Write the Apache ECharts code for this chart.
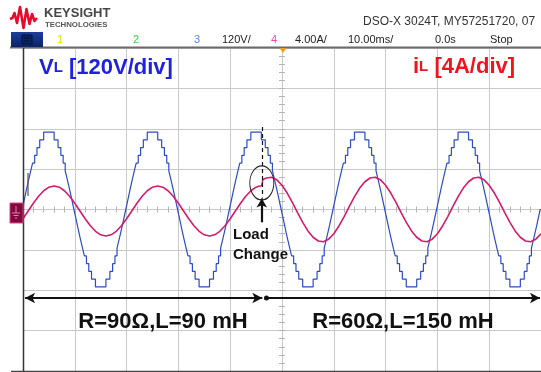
<!DOCTYPE html>
<html>
<head>
<meta charset="utf-8">
<script src="https://cdn.jsdelivr.net/npm/echarts@6/dist/echarts.min.js"></script>
<style>
  html, body { margin: 0; padding: 0; background: #ffffff; }
  #scope { width: 541px; height: 372px; }
</style>
</head>
<body>
<div id="scope"></div>
<script>
// Vertical / horizontal scale settings of the capture
const voltsPerDiv = 120;   // channel 3, load voltage
const ampsPerDiv = 4;      // channel 4, load current
const msPerDiv = 10;       // time base
const vertDivs = 8;
const horizDivs = 10;

// Header readout of the instrument
const headerModel = 'DSO-X 3024T, MY57251720, 07';
const headerReadouts = ['120V/', '4.00A/', '10.00ms/', '0.0s', 'Stop'];
const channelNumbers = ['1', '2', '3', '4'];

// Load voltage: multilevel staircase, [time ms, level V] at each step change
const voltageSteps = [
  [-50,0],[-49.84,23],[-49.52,46],[-49.2,69],[-48.86,92],[-48.51,115],[-48.15,138],[-47.75,161],[-47.3,184],[-46.77,207],[-46.01,230],
  [-43.99,207],[-43.23,184],[-42.7,161],[-42.25,138],[-41.85,115],[-41.49,92],[-41.14,69],[-40.8,46],[-40.48,23],[-40.16,0],
  [-39.84,-23],[-39.52,-46],[-39.2,-69],[-38.86,-92],[-38.51,-115],[-38.15,-138],[-37.75,-161],[-37.3,-184],[-36.77,-207],[-36.01,-230],
  [-33.99,-207],[-33.23,-184],[-32.7,-161],[-32.25,-138],[-31.85,-115],[-31.49,-92],[-31.14,-69],[-30.8,-46],[-30.48,-23],[-30.16,0],
  [-29.84,23],[-29.52,46],[-29.2,69],[-28.86,92],[-28.51,115],[-28.15,138],[-27.75,161],[-27.3,184],[-26.77,207],[-26.01,230],
  [-23.99,207],[-23.23,184],[-22.7,161],[-22.25,138],[-21.85,115],[-21.49,92],[-21.14,69],[-20.8,46],[-20.48,23],[-20.16,0],
  [-19.84,-23],[-19.52,-46],[-19.2,-69],[-18.86,-92],[-18.51,-115],[-18.15,-138],[-17.75,-161],[-17.3,-184],[-16.77,-207],[-16.01,-230],
  [-13.99,-207],[-13.23,-184],[-12.7,-161],[-12.25,-138],[-11.85,-115],[-11.49,-92],[-11.14,-69],[-10.8,-46],[-10.48,-23],[-10.16,0],
  [-9.84,23],[-9.52,46],[-9.2,69],[-8.86,92],[-8.51,115],[-8.15,138],[-7.75,161],[-7.3,184],[-6.77,207],[-6.01,230],
  [-3.99,207],[-3.23,184],[-2.7,161],[-2.25,138],[-1.85,115],[-1.49,92],[-1.14,69],[-0.8,46],[-0.48,23],[-0.16,0],
  [0.16,-23],[0.48,-46],[0.8,-69],[1.14,-92],[1.49,-115],[1.85,-138],[2.25,-161],[2.7,-184],[3.23,-207],[3.99,-230],
  [6.01,-207],[6.77,-184],[7.3,-161],[7.75,-138],[8.15,-115],[8.51,-92],[8.86,-69],[9.2,-46],[9.52,-23],[9.84,0],
  [10.16,23],[10.48,46],[10.8,69],[11.14,92],[11.49,115],[11.85,138],[12.25,161],[12.7,184],[13.23,207],[13.99,230],
  [16.01,207],[16.77,184],[17.3,161],[17.75,138],[18.15,115],[18.51,92],[18.86,69],[19.2,46],[19.52,23],[19.84,0],
  [20.16,-23],[20.48,-46],[20.8,-69],[21.14,-92],[21.49,-115],[21.85,-138],[22.25,-161],[22.7,-184],[23.23,-207],[23.99,-230],
  [26.01,-207],[26.77,-184],[27.3,-161],[27.75,-138],[28.15,-115],[28.51,-92],[28.86,-69],[29.2,-46],[29.52,-23],[29.84,0],
  [30.16,23],[30.48,46],[30.8,69],[31.14,92],[31.49,115],[31.85,138],[32.25,161],[32.7,184],[33.23,207],[33.99,230],
  [36.01,207],[36.77,184],[37.3,161],[37.75,138],[38.15,115],[38.51,92],[38.86,69],[39.2,46],[39.52,23],[39.84,0],
  [40.16,-23],[40.48,-46],[40.8,-69],[41.14,-92],[41.49,-115],[41.85,-138],[42.25,-161],[42.7,-184],[43.23,-207],[43.99,-230],
  [46.01,-207],[46.77,-184],[47.3,-161],[47.75,-138],[48.15,-115],[48.51,-92],[48.86,-69],[49.2,-46],[49.52,-23],[49.84,0],[50,0]
];

// Load current, [time ms, value A]
const currentPoints = [
  [-50,-0.92],[-49,-0.15],[-48,0.62],[-47,1.31],[-46,1.86],[-45,2.21],[-44,2.33],[-43,2.21],[-42,1.86],[-41,1.31],
  [-40,0.62],[-39,-0.15],[-38,-0.92],[-37,-1.61],[-36,-2.16],[-35,-2.51],[-34,-2.63],[-33,-2.51],[-32,-2.16],[-31,-1.61],
  [-30,-0.92],[-29,-0.15],[-28,0.62],[-27,1.31],[-26,1.86],[-25,2.21],[-24,2.33],[-23,2.21],[-22,1.86],[-21,1.31],
  [-20,0.62],[-19,-0.15],[-18,-0.92],[-17,-1.61],[-16,-2.16],[-15,-2.51],[-14,-2.63],[-13,-2.51],[-12,-2.16],[-11,-1.61],
  [-10,-0.92],[-9,-0.15],[-8,0.62],[-7,1.31],[-6,1.86],[-5,2.21],[-4.5,2.30],[-3.9,2.36],[-3.7,2.98],[-3,3.12],
  [-2,3.19],[-1,2.94],[0,2.40],[1,1.63],[2,0.70],[3,-0.30],[4,-1.27],[5,-2.12],[6,-2.75],[7,-3.12],
  [8,-3.19],[9,-2.94],[10,-2.40],[11,-1.63],[12,-0.70],[13,0.30],[14,1.27],[15,2.12],[16,2.75],[17,3.12],
  [18,3.19],[19,2.94],[20,2.40],[21,1.63],[22,0.70],[23,-0.30],[24,-1.27],[25,-2.12],[26,-2.75],[27,-3.12],
  [28,-3.19],[29,-2.94],[30,-2.40],[31,-1.63],[32,-0.70],[33,0.30],[34,1.27],[35,2.12],[36,2.75],[37,3.12],
  [38,3.19],[39,2.94],[40,2.40],[41,1.63],[42,0.70],[43,-0.30],[44,-1.27],[45,-2.12],[46,-2.75],[47,-3.12],
  [48,-3.19],[49,-2.94],[50,-2.40]
];

// Load step instant and annotation levels (in volts on channel 3 scale)
const loadChangeTime = -3.9;
const spanArrowLevel = -263;
const loadLabels = ['R=90Ω,L=90 mH', 'R=60Ω,L=150 mH'];

const GRID_COLOR = '#c9c9c9';
const FONT = "'Liberation Sans', Arial, sans-serif";

const tMin = -horizDivs / 2 * msPerDiv, tMax = horizDivs / 2 * msPerDiv;
const vMax = vertDivs / 2 * voltsPerDiv, aMax = vertDivs / 2 * ampsPerDiv;

function centerAxisX(position, withGrid) {
  return {
    type: 'value', min: tMin, max: tMax, interval: msPerDiv, position: position,
    axisLine: { show: withGrid, onZero: true, onZeroAxisIndex: 0, lineStyle: { color: GRID_COLOR, width: 1 } },
    axisTick: { show: true, length: 3, inside: false, lineStyle: { color: '#b4b4b4', width: 1 } },
    minorTick: { show: true, splitNumber: 5, length: 3, lineStyle: { color: '#b4b4b4', width: 1 } },
    splitLine: { show: withGrid, lineStyle: { color: GRID_COLOR, width: 1 } },
    axisLabel: { show: false }
  };
}
function centerAxisY(position, maxVal, step, withGrid) {
  return {
    type: 'value', min: -maxVal, max: maxVal, interval: step, position: position,
    axisLine: { show: withGrid, onZero: true, onZeroAxisIndex: 0, lineStyle: { color: GRID_COLOR, width: 1 } },
    axisTick: { show: true, length: 3, inside: false, lineStyle: { color: '#b4b4b4', width: 1 } },
    minorTick: { show: true, splitNumber: 5, length: 3, lineStyle: { color: '#b4b4b4', width: 1 } },
    splitLine: { show: withGrid, lineStyle: { color: GRID_COLOR, width: 1 } },
    axisLabel: { show: false }
  };
}

const chart = echarts.init(document.getElementById('scope'), null, { renderer: 'canvas' });

const headerText = (text, x, color, align) => ({
  type: 'text', x: x, y: 40, z: 10,
  style: { text: text, font: '11px ' + FONT, fill: color, align: align || 'left', verticalAlign: 'middle' }
});

chart.setOption({
  backgroundColor: '#ffffff',
  animation: false,
  grid: { left: 23, right: 0, top: 48, bottom: 1, show: false, outerBoundsMode: 'none' },
  xAxis: [centerAxisX('bottom', true), centerAxisX('top', false)],
  yAxis: [centerAxisY('left', vMax, voltsPerDiv, true), centerAxisY('right', aMax, ampsPerDiv, false)],
  series: [
    {
      name: 'VL', type: 'line', xAxisIndex: 0, yAxisIndex: 0,
      data: voltageSteps, step: 'end', showSymbol: false, silent: true,
      lineStyle: { color: '#2b4cc4', width: 1.2 },
      markLine: {
        silent: true, animation: false, symbol: ['none', 'none'],
        label: { show: false },
        lineStyle: { color: '#111111', width: 2, type: 'solid' },
        emphasis: { disabled: true },
        data: [
          [{ coord: [tMin + 0.4, spanArrowLevel], symbol: 'arrow', symbolSize: [8, 10] },
           { coord: [loadChangeTime + 0.1, spanArrowLevel], symbol: 'arrow', symbolSize: [8, 10] }],
          [{ coord: [loadChangeTime + 0.9, spanArrowLevel], symbol: 'circle', symbolSize: 5 },
           { coord: [tMax - 0.2, spanArrowLevel], symbol: 'arrow', symbolSize: [8, 10] }],
          [{ coord: [loadChangeTime, 245], lineStyle: { type: [4, 3], width: 1.2 } },
           { coord: [loadChangeTime, 36] }],
          [{ coord: [loadChangeTime, -38], lineStyle: { width: 2.2 } },
           { coord: [loadChangeTime, 33], symbol: 'arrow', symbolSize: [8, 9] }]
        ]
      },
      markPoint: {
        silent: true, animation: false,
        symbol: 'circle', symbolSize: [24, 34],
        itemStyle: { color: 'rgba(0,0,0,0)', borderColor: '#222222', borderWidth: 1.1 },
        label: { show: false },
        data: [{ coord: [loadChangeTime, 79] }]
      }
    },
    {
      name: 'iL', type: 'line', xAxisIndex: 0, yAxisIndex: 1,
      data: currentPoints, showSymbol: false, silent: true, z: 3,
      lineStyle: { color: '#d41c6c', width: 1.6 }
    }
  ],
  graphic: [
    // frame lines
    { type: 'line', z: 5, shape: { x1: 10, y1: 47.5, x2: 541, y2: 47.5 }, style: { stroke: '#6a6a6a', lineWidth: 2 } },
    { type: 'line', z: 5, shape: { x1: 23.5, y1: 48, x2: 23.5, y2: 372 }, style: { stroke: '#333333', lineWidth: 1.5 } },
    { type: 'line', z: 5, shape: { x1: 11, y1: 371.5, x2: 541, y2: 371.5 }, style: { stroke: '#444444', lineWidth: 1.5 } },
    // trigger position marker
    { type: 'polygon', z: 6, shape: { points: [[279.5, 48], [286.5, 48], [283, 53]] }, style: { fill: '#f09a1e' } },
    // channel 3 reference stub and channel 4 ground marker
    { type: 'line', z: 6, shape: { x1: 28, y1: 173, x2: 28, y2: 196 }, style: { stroke: '#555555', lineWidth: 1.2 } },
    { type: 'rect', z: 6, shape: { x: 10, y: 203, width: 13, height: 20 }, style: { fill: '#7d0c3c', stroke: '#e23c8c', lineWidth: 1 } },
    { type: 'polyline', z: 7, shape: { points: [[16, 206], [16, 213]] }, style: { stroke: '#f07ab4', lineWidth: 1 } },
    { type: 'line', z: 7, shape: { x1: 12, y1: 213, x2: 20, y2: 213 }, style: { stroke: '#f07ab4', lineWidth: 1 } },
    { type: 'line', z: 7, shape: { x1: 13.5, y1: 215.5, x2: 18.5, y2: 215.5 }, style: { stroke: '#f07ab4', lineWidth: 1 } },
    { type: 'line', z: 7, shape: { x1: 15, y1: 218, x2: 17, y2: 218 }, style: { stroke: '#f07ab4', lineWidth: 1 } },
    // brand logo
    { type: 'polyline', z: 10, shape: { points: [[10, 19], [12.5, 18], [14.5, 13], [17, 23], [20, 7], [23.5, 28], [26.5, 9], [29.5, 24], [32, 14], [34.5, 21], [37, 18]] },
      style: { stroke: '#e30d2c', lineWidth: 2.6, lineJoin: 'round', fill: null } },
    { type: 'text', x: 44, y: 13.5, z: 10, style: { text: 'KEYSIGHT', font: 'bold 13px ' + FONT, fill: '#474747', verticalAlign: 'middle' } },
    { type: 'text', x: 45, y: 24.5, z: 10, style: { text: 'TECHNOLOGIES', font: 'bold 7.8px ' + FONT, fill: '#555555', verticalAlign: 'middle' } },
    { type: 'text', x: 363, y: 22, z: 10, style: { text: headerModel, font: '12px ' + FONT, fill: '#333333', verticalAlign: 'middle' } },
    // header softkey box
    { type: 'rect', z: 10, shape: { x: 11, y: 32, width: 32, height: 15 },
      style: { fill: new echarts.graphic.LinearGradient(0, 0, 0, 1, [{ offset: 0, color: '#1c3f9c' }, { offset: 1, color: '#0a2466' }]) } },
    { type: 'rect', z: 11, shape: { x: 22, y: 35, width: 10, height: 9 }, style: { fill: '#0a2466', stroke: '#031236', lineWidth: 1 } },
    { type: 'line', z: 12, shape: { x1: 24, y1: 38, x2: 30, y2: 38 }, style: { stroke: '#031236', lineWidth: 1 } },
    { type: 'line', z: 12, shape: { x1: 24, y1: 41, x2: 30, y2: 41 }, style: { stroke: '#031236', lineWidth: 1 } },
    headerText(channelNumbers[0], 60, '#e2e200', 'center'),
    headerText(channelNumbers[1], 136, '#3fcf3f', 'center'),
    headerText(channelNumbers[2], 197, '#5b85f0', 'center'),
    headerText(headerReadouts[0], 222, '#222222'),
    headerText(channelNumbers[3], 274, '#e84aa8', 'center'),
    headerText(headerReadouts[1], 295, '#222222'),
    headerText(headerReadouts[2], 348, '#222222'),
    headerText(headerReadouts[3], 435, '#222222'),
    headerText(headerReadouts[4], 490, '#222222'),
    // channel titles
    { type: 'text', x: 39, y: 68, z: 10, style: {
        text: '{m|V}{s|L}{m| [120V/div]}', verticalAlign: 'middle',
        rich: { m: { font: 'bold 22px ' + FONT, fill: '#1e22e0' }, s: { font: 'bold 15px ' + FONT, fill: '#1e22e0' } } } },
    { type: 'text', x: 413, y: 67, z: 10, style: {
        text: '{m|i}{s|L}{m| [4A/div]}', verticalAlign: 'middle',
        rich: { m: { font: 'bold 22px ' + FONT, fill: '#f0141e' }, s: { font: 'bold 15px ' + FONT, fill: '#f0141e' } } } },
    // load step annotation
    { type: 'text', x: 233, y: 235, z: 10, style: { text: 'Load', font: 'bold 15px ' + FONT, fill: '#111111', verticalAlign: 'middle' } },
    { type: 'text', x: 233, y: 255, z: 10, style: { text: 'Change', font: 'bold 15px ' + FONT, fill: '#111111', verticalAlign: 'middle' } },
    { type: 'text', x: 163, y: 322, z: 10, style: { text: loadLabels[0], font: 'bold 22px ' + FONT, fill: '#111111', align: 'center', verticalAlign: 'middle' } },
    { type: 'text', x: 403, y: 322, z: 10, style: { text: loadLabels[1], font: 'bold 22px ' + FONT, fill: '#111111', align: 'center', verticalAlign: 'middle' } }
  ]
});
</script>
</body>
</html>
